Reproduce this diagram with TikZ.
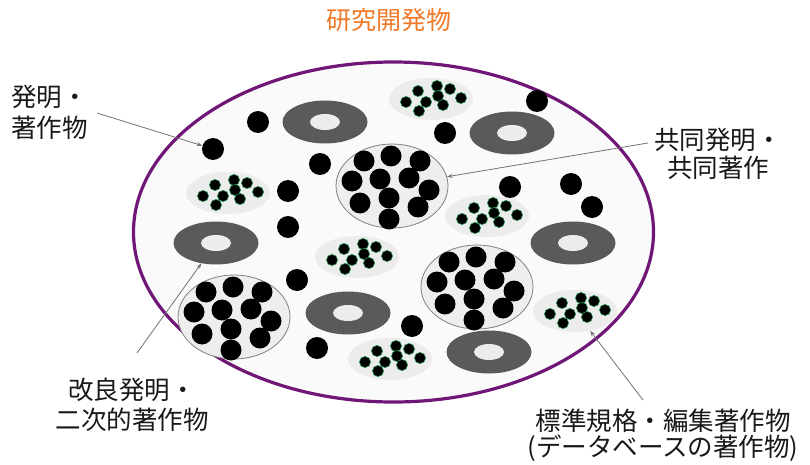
\documentclass[tikz,border=0pt]{standalone}
\usepackage{fontspec}
\newfontfamily\jp{Noto Sans CJK JP}
\usetikzlibrary{shapes.geometric,arrows.meta}
\definecolor{rim}{RGB}{112,22,118}
\definecolor{titleorange}{RGB}{240,122,40}
\definecolor{donutgray}{RGB}{90,90,90}
\definecolor{holegray}{RGB}{236,236,236}
\definecolor{setgray}{RGB}{238,238,238}
\definecolor{clustergray}{RGB}{236,236,236}
\definecolor{seedgreen}{RGB}{30,150,80}
\definecolor{inkgray}{RGB}{25,25,25}
\begin{document}
\begin{tikzpicture}[x=1pt,y=-1pt,
  blackdot/.style={circle,fill=black,minimum size=22pt,inner sep=0pt},
  bigset/.style={ellipse,draw=black!50,line width=0.8pt,fill=setgray,minimum width=112pt,minimum height=84pt,inner sep=0pt},
  cluster/.style={ellipse,fill=clustergray,minimum width=84pt,minimum height=42pt,inner sep=0pt},
  donut/.style={ellipse,fill=donutgray,minimum width=85pt,minimum height=43pt,inner sep=0pt},
  labeltext/.style={font=\jp\fontsize{25.5}{30}\selectfont,text=inkgray,inner sep=0pt},
  pointer/.style={draw=black!55,line width=0.8pt,-{Stealth[length=5.5pt,width=4pt]}}]
\useasboundingbox (0,0) rectangle (810,465);
\fill[white] (0,0) rectangle (810,465);

% title
\node[font=\jp\fontsize{25}{30}\selectfont,text=titleorange,inner sep=0pt] (title) at (389,20) {研究開発物};

% outer region
\node[ellipse,draw=rim,line width=3.2pt,fill=black!2,minimum width=520pt,minimum height=340pt,inner sep=0pt] (world) at (393.5,232) {};

% clusters (standard / compilation)
\foreach \cx/\cy [count=\i] in {431/99, 228/193, 487/216, 357/257, 575/311, 390/359} {
  \node[cluster] (k\i) at (\cx,\cy) {};
  \foreach \dx/\dy in {-13/-8, 6/-13, 19/-10, 7/-3, -5/3, -25/3, 30/-1, 12/6, -12/12}
    \filldraw[fill=black,draw=seedgreen,line width=0.5pt] (\cx+\dx,\cy+\dy) circle (5.6pt);
}

% donuts
\foreach \cx/\cy [count=\i] in {325/122, 512/133, 216/243, 573/243, 348/313, 489/352} {
  \node[donut] (n\i) at (\cx,\cy) {};
  \fill[holegray] (\cx,\cy) ellipse (15pt and 8pt);
}

% big sets (joint inventions)
\foreach \cx/\cy/\nm in {392/186/c1, 234/317/c2, 477/287/c3} {
  \node[bigset] (\nm) at (\cx,\cy) {};
  \foreach \dx/\dy in {-28/-25, -1/-30, 28/-25, -40/-5, -12/-7, 17/-8, 37/4, -32/17, -3/12, 26/21, -3/33}
    \fill[black] (\cx+\dx,\cy+\dy) circle (10.5pt);
}

% single inventions
\foreach \cx/\cy [count=\i] in {258/122, 213/149, 320/164, 288/191, 288/227, 537/101, 445/133, 510/187, 571/184, 592/207, 297/280, 317/348, 412/326} {
  \node[blackdot] (d\i) at (\cx,\cy) {};
}

% labels
\node[labeltext,align=left,anchor=west,font=\jp\fontsize{25.5}{31}\selectfont] (L1) at (11,112) {発明・\\著作物};
\node[labeltext,align=center,font=\jp\fontsize{25.5}{28}\selectfont] (L2) at (718,154) {共同発明・\\共同著作};
\node[labeltext,align=center,font=\jp\fontsize{25.5}{30}\selectfont] (L3) at (132,405) {改良発明・\\二次的著作物};
\node[labeltext,align=center,font=\jp\fontsize{25.5}{26}\selectfont] (L4) at (663,435) {標準規格・編集著作物\\(データベースの著作物)};

% pointers
\coordinate (p1) at (97,113);
\coordinate (p2) at (648,143);
\coordinate (p3) at (137,353);
\coordinate (p4) at (643,400);
\draw[pointer] (p1) -- (d2);
\draw[pointer] (p2) -- (c1);
\draw[pointer] (p3) -- (n3);
\draw[pointer] (p4) -- (k5);
\end{tikzpicture}
\end{document}
